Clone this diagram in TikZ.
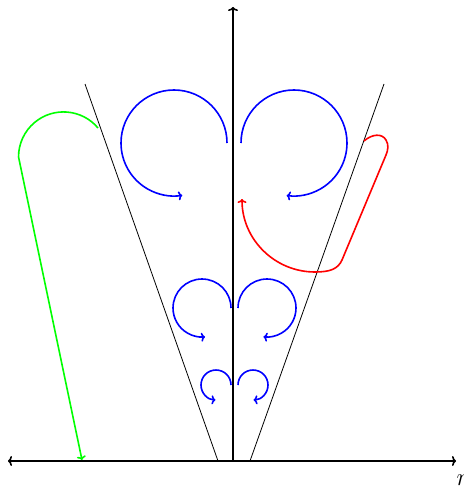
\documentclass[tikz,border=0pt]{standalone}
\usetikzlibrary{arrows.meta}
\begin{document}
\begin{tikzpicture}[x=1pt,y=-1pt,
  axis/.style={line width=1.6pt,black},
  cone/.style={line width=0.8pt,black},
  swirl/.style={line width=1.6pt,blue,-{To[length=4pt,width=9pt]}},
  flow/.style={line width=1.6pt,-{To[length=4pt,width=9pt]}}]
\useasboundingbox (0,0) rectangle (463,487);
% axes
\coordinate (xl) at (8,461);
\coordinate (xr) at (456,461);
\coordinate (o) at (233,461);
\coordinate (yt) at (233,7);
\draw[axis,{To[length=4pt,width=10pt]}-{To[length=4pt,width=10pt]}] (xl) -- (xr);
\draw[axis,-{To[length=4pt,width=10pt]}] (o) -- (yt);
\node[anchor=base west,inner sep=0pt,font=\fontsize{28}{30}\selectfont] (rl) at (456.5,485) {$r$};
% cone
\coordinate (cl1) at (85,84);
\coordinate (cl2) at (218,461);
\coordinate (cr1) at (384,84);
\coordinate (cr2) at (250,461);
\draw[cone] (cl1) -- (cl2);
\draw[cone] (cr1) -- (cr2);
% swirls
\draw[swirl] (227,143) arc[start angle=0,end angle=-279,radius=53];
\draw[swirl] (241,143) arc[start angle=180,end angle=458,radius=53];
\draw[swirl] (231,308) arc[start angle=0,end angle=-276,radius=29];
\draw[swirl] (238,308) arc[start angle=180,end angle=457,radius=29];
\draw[swirl] (231,385) arc[start angle=0,end angle=-268,radius=15];
\draw[swirl] (238,385) arc[start angle=180,end angle=448,radius=15];
% red
\draw[flow,red] (364,141) .. controls (372,134) and (382,133) .. (386,140)
  .. controls (389,145) and (388,150) .. (386,155)
  -- (342,260) .. controls (338,269) and (330,272) .. (315,272)
  arc[start angle=90,end angle=180,radius=73];
% green
\coordinate (ge) at (82,460);
\draw[flow,green] (98,128) arc[start angle=-40,end angle=-180,radius=45] -- (ge);
\end{tikzpicture}
\end{document}
